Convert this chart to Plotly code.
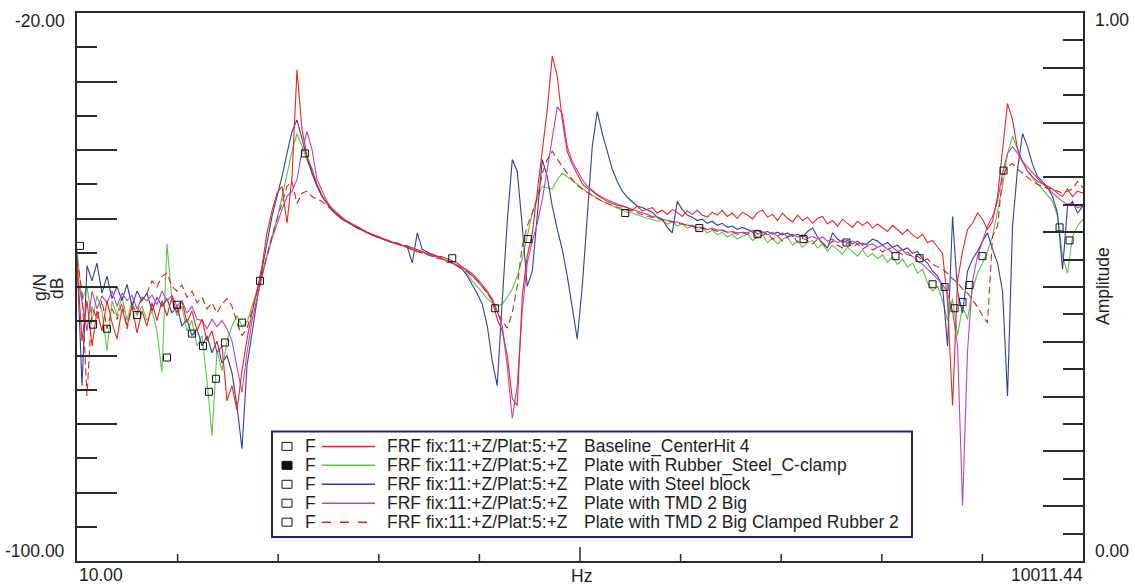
import plotly.graph_objects as go
import math

# ---------------- data ----------------
FREQ_D1 = [10.00, 10.35, 10.71, 11.09, 11.47, 11.87, 12.29, 12.72, 13.16, 13.62, 14.10, 14.59, 15.10, 15.63, 16.17,
           16.74, 17.32, 17.92, 18.55, 19.20, 19.87, 20.56, 21.28, 22.02, 22.80, 23.60, 24.42, 25.27, 26.15, 27.07,
           28.01, 28.99, 30.00, 31.05, 32.14, 33.26, 34.42, 35.63, 36.87, 38.16, 39.49, 40.87, 42.30, 43.78, 45.30,
           46.89, 48.52, 50.22, 51.97, 53.78, 55.67, 57.61, 59.62, 61.70, 63.86, 66.09, 68.40, 70.79, 73.26, 75.82,
           78.47, 81.21, 84.05, 86.98, 90.03, 93.17, 96.43]
FREQ_D2 = [100.0, 103.5, 107.1, 110.9, 114.7, 118.7, 122.9, 127.2, 131.6, 136.2, 141.0, 145.9, 151.0, 156.3, 161.7,
           167.4, 173.2, 179.2, 185.5, 192.0, 198.7, 205.6, 212.8, 220.2, 228.0, 236.0, 244.2, 252.7, 261.5, 270.7,
           280.1, 289.9, 300.0, 310.5, 321.4, 332.6, 344.2, 356.3, 368.7, 381.6, 394.9, 408.7, 423.0, 437.8, 453.0,
           468.9, 485.2, 502.2, 519.7, 537.8, 556.7, 576.1, 596.2, 617.0, 638.6, 660.9, 684.0, 707.9, 732.6, 758.2,
           784.7, 812.1, 840.5, 869.8, 900.3, 931.7, 964.3]
FREQ_D3 = [1000, 1035, 1071, 1109, 1147, 1187, 1229, 1272, 1316, 1362, 1410, 1459, 1510, 1563, 1617, 1674, 1732,
           1792, 1855, 1920, 1987, 2056, 2128, 2202, 2280, 2360, 2442, 2527, 2615, 2707, 2801, 2899, 3000, 3105,
           3214, 3326, 3442, 3563, 3687, 3816, 3949, 4087, 4230, 4378, 4530, 4689, 4852, 5022, 5197, 5379, 5567,
           5761, 5962, 6170, 6386, 6609, 6840, 7079, 7326, 7582, 7847, 8121, 8405, 8698, 9003, 9317, 9643, 10011.44]

# Baseline_CenterHit 4 (red)
BASE_D1 = [-56.5, -67.9, -62.0, -68.6, -63.5, -66.4, -62.0, -65.2, -67.6, -63.2, -65.7, -62.8, -66.7, -63.5, -65.7,
           -62.3, -64.9, -62.0, -64.2, -61.5, -63.8, -62.0, -65.2, -63.5, -66.4, -64.7, -67.9, -66.4, -69.6, -68.6,
           -76.6, -74.4, -78.0, -72.2, -67.6, -63.8, -60.6, -56.9, -52.1, -48.9, -46.3, -45.3, -50.7, -43.9, -28.3,
           -37.0, -40.9, -42.8, -45.0, -46.6, -47.8, -48.7, -49.4, -50.0, -50.4, -50.8, -51.3, -51.7, -52.0, -52.3,
           -52.6, -52.9, -53.2, -53.5, -53.6, -53.9, -54.0]
BASE_D2 = [-54.3, -54.6, -54.8, -55.1, -55.2, -55.5, -55.6, -55.9, -56.2, -56.5, -57.1, -57.5, -58.1, -58.8, -59.7,
           -60.6, -62.0, -64.7, -66.4, -70.0, -76.3, -77.3, -61.3, -55.5, -52.1, -46.3, -40.2, -34.1, -26.3, -29.3,
           -35.6, -40.2, -42.1, -43.6, -44.9, -45.6, -46.0, -46.6, -47.1, -47.5, -47.8, -48.1, -48.2, -48.4, -48.8,
           -48.2, -48.9, -48.7, -48.4, -49.2, -48.8, -49.4, -48.7, -49.1, -49.7, -48.9, -49.4, -48.8, -49.5, -49.8,
           -49.1, -49.5, -48.8, -49.7, -49.2, -50.0, -49.1]
BASE_D3 = [-49.5, -50.1, -49.1, -48.8, -49.8, -49.4, -50.3, -49.2, -50.0, -50.5, -49.5, -50.3, -49.8, -50.7, -50.0,
           -49.7, -50.8, -50.3, -51.1, -50.1, -50.7, -51.3, -50.4, -51.0, -50.5, -51.4, -50.8, -51.3, -51.9, -51.0,
           -51.7, -52.3, -51.6, -52.4, -52.9, -52.3, -53.5, -53.2, -54.2, -55.1, -62.0, -77.3, -59.1, -54.8, -51.6,
           -50.7, -49.2, -50.1, -51.6, -50.4, -46.8, -40.2, -33.2, -35.6, -39.9, -41.7, -43.1, -43.9, -44.6, -44.9,
           -45.3, -45.7, -46.3, -46.8, -45.7, -46.8, -46.0, -46.3]

# Plate with Rubber_Steel_C-clamp (green)
RUBBER_D1 = [-54.5, -62.0, -59.9, -64.9, -61.3, -63.5, -69.3, -62.0, -64.2, -61.3, -64.9, -62.0, -64.2, -62.8, -64.9,
             -63.5, -66.4, -72.5, -53.7, -62.0, -64.2, -62.8, -66.4, -64.9, -68.6, -67.1, -73.7, -81.7, -69.3, -72.2,
             -67.9, -65.7, -64.2, -65.7, -65.2, -62.8, -60.6, -58.0, -55.3, -52.7, -50.0, -46.9, -43.7, -40.2, -37.6,
             -39.5, -41.4, -43.1, -45.2, -46.6, -47.8, -48.7, -49.4, -50.0, -50.5, -50.8, -51.3, -51.7, -52.0, -52.4,
             -52.7, -53.0, -53.3, -53.5, -53.7, -54.0, -54.2]
RUBBER_D2 = [-54.5, -54.8, -54.9, -55.2, -55.3, -55.6, -55.9, -56.1, -56.5, -56.8, -57.4, -58.1, -59.1, -60.0, -60.9,
             -61.7, -62.3, -62.8, -62.5, -61.5, -60.3, -58.4, -55.9, -52.6, -49.2, -46.8, -45.3, -45.5, -45.7, -44.3,
             -43.4, -43.9, -44.4, -45.0, -45.6, -46.2, -46.6, -47.1, -47.5, -47.8, -48.2, -48.5, -48.8, -49.1, -49.2,
             -49.5, -49.7, -50.0, -50.1, -50.4, -50.3, -50.8, -50.5, -51.1, -50.8, -51.4, -51.1, -51.7, -51.4, -52.1,
             -51.7, -52.4, -52.0, -52.7, -52.3, -53.0, -52.6]
RUBBER_D3 = [-52.3, -53.2, -52.7, -52.4, -53.5, -52.9, -53.7, -53.0, -52.7, -53.9, -53.3, -54.2, -53.5, -53.2, -54.3,
             -53.7, -54.8, -53.9, -54.5, -55.2, -54.2, -54.9, -55.5, -54.6, -55.6, -55.1, -55.9, -55.3, -56.4, -55.6,
             -56.7, -55.9, -57.1, -56.5, -58.0, -57.4, -59.4, -60.6, -59.9, -62.0, -64.9, -61.7, -67.1, -62.8, -64.7,
             -60.3, -58.0, -56.5, -54.8, -52.6, -48.9, -45.3, -40.5, -38.0, -39.9, -41.7, -43.1, -44.1, -45.0, -45.7,
             -46.6, -47.5, -49.7, -55.5, -58.0, -52.6, -51.1, -50.1]

# Plate with Steel block (blue)
STEEL_D1 = [-55.5, -74.4, -56.9, -59.1, -56.5, -60.9, -58.4, -61.7, -59.9, -62.0, -59.6, -62.8, -60.6, -62.0, -60.9,
            -63.5, -61.5, -62.8, -61.7, -63.8, -62.8, -65.7, -64.7, -67.1, -66.1, -68.6, -67.1, -69.6, -67.9, -71.1,
            -70.0, -72.5, -77.3, -83.6, -71.5, -66.4, -62.0, -57.4, -53.3, -49.7, -46.8, -43.9, -40.5, -37.3, -35.6,
            -38.5, -41.1, -43.4, -45.3, -46.8, -47.8, -48.8, -49.5, -50.1, -50.5, -51.0, -51.4, -51.7, -52.1, -52.4,
            -52.7, -53.0, -53.3, -53.5, -53.6, -53.9, -54.0]
STEEL_D2 = [-56.5, -52.1, -54.5, -54.9, -55.3, -55.5, -55.9, -56.2, -56.5, -56.9, -57.4, -58.4, -59.6, -61.0, -62.5,
            -65.7, -70.8, -74.4, -62.0, -50.4, -41.4, -43.1, -51.1, -59.9, -57.7, -48.9, -41.4, -43.9, -48.2, -51.6,
            -54.5, -58.4, -62.8, -67.6, -59.9, -48.9, -39.5, -34.4, -37.6, -40.2, -42.8, -44.6, -46.0, -46.9, -47.6,
            -48.2, -48.4, -48.8, -49.1, -49.8, -50.1, -51.3, -52.1, -47.5, -48.7, -49.5, -49.8, -50.3, -50.1, -50.7,
            -50.4, -51.0, -50.7, -51.3, -51.1, -51.6, -51.3]
STEEL_D3 = [-51.6, -52.0, -51.7, -52.1, -51.9, -52.3, -52.0, -52.4, -52.1, -52.6, -52.3, -52.7, -51.9, -51.4, -52.7,
            -53.6, -54.3, -52.1, -53.0, -53.5, -53.2, -53.7, -53.3, -53.9, -53.6, -53.0, -53.3, -53.9, -53.5, -54.2,
            -53.9, -54.6, -54.3, -55.1, -54.8, -55.9, -56.5, -57.7, -58.4, -59.9, -68.6, -49.7, -60.6, -63.8, -57.7,
            -55.9, -54.8, -53.3, -52.1, -54.5, -56.5, -60.6, -75.9, -51.1, -42.8, -37.6, -39.5, -42.1, -43.9, -44.6,
            -45.5, -46.8, -49.2, -57.4, -48.2, -47.5, -49.2, -48.2]

# Plate with TMD 2 Big (magenta)
TMD_D1 = [-58.0, -62.0, -66.4, -60.6, -63.2, -61.3, -62.3, -60.6, -62.8, -60.9, -62.0, -61.2, -63.2, -61.5, -62.0,
          -61.2, -62.6, -60.6, -62.0, -61.2, -62.8, -62.0, -63.8, -62.8, -64.7, -64.9, -66.1, -64.7, -65.8, -64.9,
          -66.1, -67.9, -71.5, -75.4, -69.6, -64.9, -61.7, -58.5, -55.5, -53.0, -50.7, -48.7, -46.8, -46.0, -44.3,
          -40.2, -37.3, -39.9, -44.3, -46.0, -47.5, -48.5, -49.2, -49.8, -50.4, -50.8, -51.3, -51.6, -52.0, -52.3,
          -52.6, -52.9, -53.2, -53.5, -53.7, -53.9, -54.2]
TMD_D2 = [-54.5, -54.8, -54.9, -55.2, -55.5, -55.6, -55.9, -56.1, -56.4, -56.7, -57.1, -57.7, -58.4, -59.1, -60.0,
          -60.9, -61.7, -63.5, -65.7, -71.5, -79.2, -74.4, -63.5, -56.5, -53.3, -50.7, -47.2, -42.8, -38.0, -33.7,
          -34.7, -39.5, -41.7, -43.1, -44.3, -45.3, -45.9, -46.5, -46.9, -47.3, -47.6, -47.9, -48.1, -48.4, -48.7,
          -48.9, -49.2, -49.4, -49.7, -49.8, -50.1, -50.3, -50.4, -50.5, -50.8, -51.0, -51.0, -51.3, -51.3, -51.6,
          -51.4, -51.7, -51.7, -52.0, -51.9, -52.1, -52.0]
TMD_D3 = [-52.1, -51.7, -52.3, -51.9, -52.4, -52.0, -52.6, -52.1, -52.7, -52.3, -52.7, -52.4, -52.9, -52.6, -53.0,
          -52.7, -53.3, -53.0, -53.5, -53.2, -53.6, -53.3, -53.7, -53.6, -53.9, -53.7, -54.2, -53.9, -54.5, -54.2,
          -54.8, -54.6, -55.3, -55.5, -56.2, -56.7, -57.4, -58.0, -58.8, -59.6, -60.9, -63.5, -68.6, -91.9, -69.3,
          -59.1, -55.5, -53.3, -51.1, -49.7, -47.5, -43.4, -40.5, -39.5, -40.5, -41.7, -42.5, -43.4, -44.1, -44.9,
          -45.6, -46.3, -46.9, -47.5, -47.9, -47.8, -48.4, -48.2]

# Plate with TMD 2 Big Clamped Rubber 2 (dashed red)
CLAMP_D1 = [-55.9, -60.6, -75.9, -62.8, -64.7, -62.0, -66.1, -63.2, -64.7, -62.3, -66.1, -62.8, -63.8, -61.7, -60.9,
            -59.1, -60.0, -58.4, -58.0, -59.9, -60.6, -59.7, -61.5, -60.6, -62.3, -61.5, -63.2, -62.3, -63.8, -62.5,
            -61.7, -62.8, -65.2, -67.1, -66.1, -63.5, -61.0, -58.4, -55.5, -52.6, -50.1, -47.5, -45.3, -44.6, -47.8,
            -46.3, -46.0, -46.8, -47.1, -47.5, -48.1, -48.8, -49.4, -50.0, -50.4, -50.8, -51.3, -51.7, -52.0, -52.3,
            -52.6, -52.9, -53.2, -53.5, -53.7, -54.0, -54.2]
CLAMP_D2 = [-54.6, -54.8, -55.1, -55.3, -55.5, -55.8, -55.9, -56.4, -56.5, -56.9, -57.4, -57.8, -58.4, -59.1, -60.0,
            -60.9, -62.0, -63.8, -64.9, -66.0, -63.8, -59.9, -54.0, -51.1, -49.2, -47.1, -43.4, -41.4, -40.2, -41.4,
            -42.4, -43.4, -44.3, -45.2, -45.7, -46.2, -46.6, -47.1, -47.5, -47.8, -48.1, -48.4, -48.5, -48.8, -48.9,
            -49.2, -49.4, -49.7, -49.8, -50.0, -50.1, -50.4, -50.5, -50.7, -50.8, -51.0, -51.1, -51.3, -51.4, -51.6,
            -51.6, -51.9, -51.7, -52.0, -52.0, -52.3, -52.1]
CLAMP_D3 = [-52.3, -52.0, -52.9, -52.4, -52.1, -53.0, -52.6, -53.3, -52.7, -52.4, -53.5, -52.9, -53.2, -53.7, -53.0,
            -53.6, -54.0, -53.3, -53.9, -54.3, -53.6, -54.2, -53.7, -54.5, -54.0, -54.6, -54.2, -54.9, -54.3, -55.1,
            -54.8, -55.3, -54.9, -55.6, -55.5, -56.1, -55.9, -56.7, -57.1, -57.4, -58.0, -58.8, -59.4, -60.3, -60.9,
            -62.0, -62.9, -64.2, -65.2, -52.6, -51.1, -43.9, -42.4, -42.0, -42.8, -43.4, -44.0, -44.6, -45.0, -45.3,
            -45.6, -45.7, -46.0, -46.3, -46.0, -45.7, -44.6, -45.5]

# square point markers drawn on the curves
MARK_HZ = [10.21, 11.16, 12.29, 15.10, 18.55, 19.87, 22.02, 23.76, 24.76, 25.97, 27.63, 31.05, 35.14, 47.86, 131.6,
           176.7, 221.7, 431.8, 717.7, 1071, 1469, 1973, 2763, 3259, 3563, 3869, 4144, 4378, 4593, 5022, 5801,
           8522, 9128]
MARK_DB = [-54.0, -65.5, -66.1, -64.1, -70.3, -62.6, -66.8, -68.6, -75.3, -73.4, -68.1, -65.2, -59.1, -40.5, -55.8,
           -63.1, -53.0, -49.2, -51.4, -52.3, -53.0, -53.5, -55.5, -55.8, -59.6, -60.0, -63.1, -62.2, -59.7, -55.5,
           -43.0, -51.3, -53.2]

LEGEND_PREFIX = "FRF fix:11:+Z/Plat:5:+Z"
SERIES_NAMES = ["Baseline_CenterHit 4", "Plate with Rubber_Steel_C-clamp", "Plate with Steel block",
                "Plate with TMD 2 Big", "Plate with TMD 2 Big Clamped Rubber 2"]
X_MIN, X_MAX = 10.0, 10011.44
Y_MIN, Y_MAX = -100.0, -20.0

FREQ_HZ = FREQ_D1 + FREQ_D2 + FREQ_D3
series_db = [BASE_D1 + BASE_D2 + BASE_D3,
             RUBBER_D1 + RUBBER_D2 + RUBBER_D3,
             STEEL_D1 + STEEL_D2 + STEEL_D3,
             TMD_D1 + TMD_D2 + TMD_D3,
             CLAMP_D1 + CLAMP_D2 + CLAMP_D3]
for s in series_db:
    assert len(s) == len(FREQ_HZ), (len(s), len(FREQ_HZ))

# ---------------- styling ----------------
W, H = 1135, 585
L, R, T, B = 77, 1083, 11, 561
FONT = "Liberation Sans, Arial, sans-serif"
TXT = "#1e1e1e"
AX = "#2a2a2a"
COLORS = ["#e8281f", "#5cc64a", "#2f3f9f", "#c040bf", "#d2261c"]
DASHES = ["solid", "solid", "solid", "solid", "7px,4px"]
DRAW_ORDER = [1, 2, 3, 0, 4]


def px(x):
    return (x - L) / (R - L)


def py(y):
    return (B - y) / (B - T)


fig = go.Figure()
for i in DRAW_ORDER:
    fig.add_trace(go.Scatter(x=FREQ_HZ, y=series_db[i], mode="lines", name=SERIES_NAMES[i],
                             line=dict(color=COLORS[i], width=1.1, dash=DASHES[i]),
                             showlegend=False, hoverinfo="skip"))
fig.add_trace(go.Scatter(x=MARK_HZ, y=MARK_DB, mode="markers", showlegend=False, hoverinfo="skip",
                         marker=dict(symbol="square-open", size=7, color="#111111",
                                     line=dict(width=1, color="#111111"))))
fig.add_trace(go.Scatter(x=[X_MIN], y=[0.0], yaxis="y2", mode="markers", showlegend=False,
                         hoverinfo="skip", marker=dict(opacity=0)))

fig.update_layout(
    width=W, height=H,
    margin=dict(l=L, r=W - R, t=T, b=H - B, pad=0),
    paper_bgcolor="white", plot_bgcolor="white",
    showlegend=False,
    xaxis=dict(type="log", range=[math.log10(X_MIN), math.log10(X_MAX)], showgrid=False, zeroline=False,
               showline=True, mirror=True, linecolor=AX, linewidth=2, ticks="", showticklabels=False),
    yaxis=dict(range=[Y_MIN, Y_MAX], showgrid=False, zeroline=False, showline=True, mirror=True,
               linecolor=AX, linewidth=2, ticks="inside", ticklen=40, tickwidth=1.5, tickcolor=AX,
               tick0=Y_MIN, dtick=10, showticklabels=False,
               minor=dict(ticks="inside", ticklen=20, tickwidth=1.5, tickcolor=AX, dtick=5, tick0=Y_MIN,
                          showgrid=False)),
    yaxis2=dict(range=[0, 1], overlaying="y", side="right", showgrid=False, zeroline=False, showline=True,
                linecolor=AX, linewidth=2, ticks="inside", ticklen=40, tickwidth=1.5, tickcolor=AX,
                tick0=0, dtick=0.1, showticklabels=False,
                minor=dict(ticks="inside", ticklen=20, tickwidth=1.5, tickcolor=AX, dtick=0.05, tick0=0,
                           showgrid=False)),
)

shapes = []
# bottom axis ticks: ten equal divisions, the middle one longer
for k in range(1, 10):
    ln = 14 if k == 5 else 7
    shapes.append(dict(type="line", xref="paper", yref="paper", x0=k / 10, x1=k / 10, y0=0, y1=ln / (B - T),
                       line=dict(color=AX, width=1.5)))

# custom legend box
LEG_X0, LEG_X1, LEG_Y0, LEG_Y1 = 272, 912, 431, 537
shapes.append(dict(type="rect", xref="paper", yref="paper", x0=px(LEG_X0), x1=px(LEG_X1), y0=py(LEG_Y1),
                   y1=py(LEG_Y0), line=dict(color="#2d1f6c", width=2), fillcolor="white"))
ROWS = [446, 465, 484, 503, 522]
annotations = []
for i, yrow in enumerate(ROWS):
    shapes.append(dict(type="rect", xref="paper", yref="paper", x0=px(282), x1=px(292), y0=py(yrow + 4),
                       y1=py(yrow - 4), line=dict(color="#111111", width=1),
                       fillcolor="#111111" if i == 1 else "white"))
    shapes.append(dict(type="line", xref="paper", yref="paper", x0=px(322), x1=px(375), y0=py(yrow),
                       y1=py(yrow), line=dict(color=COLORS[i], width=1.5,
                                               dash="dash" if DASHES[i] != "solid" else "solid")))
    annotations.append(dict(text="F", x=px(303), y=py(yrow), xanchor="left", yanchor="middle"))
    annotations.append(dict(text=LEGEND_PREFIX, x=px(385), y=py(yrow), xanchor="left", yanchor="middle"))
    annotations.append(dict(text=SERIES_NAMES[i], x=px(582), y=py(yrow), xanchor="left", yanchor="middle"))

# axis labels
annotations += [
    dict(text="-20.00", x=px(67), y=py(19), xanchor="right", yanchor="middle"),
    dict(text="-100.00", x=px(67), y=py(551), xanchor="right", yanchor="middle"),
    dict(text="1.00", x=px(1093), y=py(18), xanchor="left", yanchor="middle"),
    dict(text="0.00", x=px(1093), y=py(551), xanchor="left", yanchor="middle"),
    dict(text="10.00", x=px(77), y=py(575), xanchor="left", yanchor="middle"),
    dict(text="10011.44", x=px(1085), y=py(575), xanchor="right", yanchor="middle"),
    dict(text="Hz", x=px(581), y=py(576), xanchor="center", yanchor="middle"),
    dict(text="g/N", x=px(40), y=py(287), xanchor="center", yanchor="middle", textangle=-90),
    dict(text="dB", x=px(57), y=py(288), xanchor="center", yanchor="middle", textangle=-90),
    dict(text="Amplitude", x=px(1103), y=py(285), xanchor="center", yanchor="middle", textangle=-90),
]
for a in annotations:
    a.update(xref="paper", yref="paper", showarrow=False, font=dict(family=FONT, size=17.5, color=TXT))

fig.update_layout(shapes=shapes, annotations=annotations)
fig.write_html("out.html")
